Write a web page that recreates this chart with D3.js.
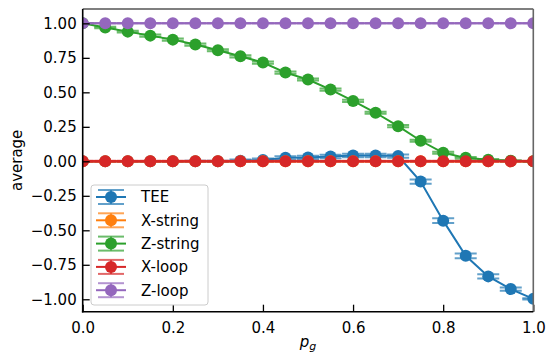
<!DOCTYPE html>
<html>
<head>
<meta charset="utf-8">
<script src="https://cdn.jsdelivr.net/npm/d3@7"></script>
<style>
  body { margin: 0; background: #fff; }
  svg { display: block; font-family: "DejaVu Sans", sans-serif; }
</style>
</head>
<body>
<svg width="556" height="363"></svg>
<script>
let pg = [0, 0.05, 0.1, 0.15, 0.2, 0.25, 0.3, 0.35, 0.4, 0.45, 0.5,
          0.55, 0.6, 0.65, 0.7, 0.75, 0.8, 0.85, 0.9, 0.95, 1.0];

let tee = [0, 0, 0, 0, 0, 0, 0, 0.005, 0.01, 0.025, 0.028,
           0.035, 0.042, 0.042, 0.038, -0.147, -0.43, -0.685, -0.834, -0.926, -0.997];
let teeErr = [0.003, 0.003, 0.003, 0.003, 0.003, 0.004, 0.005, 0.008, 0.01, 0.012, 0.012,
              0.012, 0.012, 0.012, 0.012, 0.015, 0.017, 0.017, 0.015, 0.012, 0.004];

let xString = [0, 0, 0, 0, 0, 0, 0, 0, 0, 0, 0,
               0, 0, 0, 0, 0, 0, 0, 0, 0, 0];
let xStringErr = [0.003, 0.003, 0.003, 0.003, 0.003, 0.003, 0.003, 0.003, 0.003, 0.003, 0.003,
                  0.003, 0.003, 0.003, 0.003, 0.003, 0.003, 0.003, 0.003, 0.003, 0.003];

let zString = [1.0, 0.97, 0.94, 0.911, 0.882, 0.846, 0.805, 0.761, 0.716, 0.643, 0.593,
               0.52, 0.438, 0.352, 0.255, 0.149, 0.062, 0.025, 0.012, 0.004, 0.0];
let zStringErr = [0.002, 0.006, 0.007, 0.008, 0.008, 0.008, 0.008, 0.008, 0.008, 0.008, 0.008,
                  0.008, 0.008, 0.008, 0.008, 0.008, 0.008, 0.006, 0.005, 0.004, 0.003];

let xLoop = [0, 0, 0, 0, 0, 0, 0, 0, 0, 0, 0,
             0, 0, 0, 0, 0, 0, 0, 0, 0, 0];
let xLoopErr = [0.004, 0.004, 0.004, 0.004, 0.004, 0.004, 0.004, 0.004, 0.004, 0.004, 0.004,
                0.004, 0.004, 0.004, 0.004, 0.004, 0.004, 0.004, 0.004, 0.004, 0.004];

let zLoop = [1, 1, 1, 1, 1, 1, 1, 1, 1, 1, 1,
             1, 1, 1, 1, 1, 1, 1, 1, 1, 1];
let zLoopErr = [0, 0, 0, 0, 0, 0, 0, 0, 0, 0, 0,
                0, 0, 0, 0, 0, 0, 0, 0, 0, 0];

let seriesNames = ["TEE", "X-string", "Z-string", "X-loop", "Z-loop"];
let seriesColors = ["#1f77b4", "#ff7f0e", "#2ca02c", "#d62728", "#9467bd"];
let xTicks = [0, 0.2, 0.4, 0.6, 0.8, 1.0];
let yTicks = [-1, -0.75, -0.5, -0.25, 0, 0.25, 0.5, 0.75, 1];

let series = [
  {values: tee, err: teeErr},
  {values: xString, err: xStringErr},
  {values: zString, err: zStringErr},
  {values: xLoop, err: xLoopErr},
  {values: zLoop, err: zLoopErr}
].map(function(s, i) {
  return {
    name: seriesNames[i],
    color: seriesColors[i],
    points: pg.map(function(p, j) { return {x: p, y: s.values[j], e: s.err[j]}; })
  };
});

let svg = d3.select("svg");
let pLeft = 82.7, pRight = 533.3, pTop = 9, pBottom = 311.7;

let x = d3.scaleLinear().domain([0, 1]).range([pLeft, pRight]);
let y = d3.scaleLinear().domain([-1.09, 1.104]).range([pBottom, pTop]);

let capHalf = 11, markerR = 6;

svg.append("clipPath").attr("id", "plotclip")
  .append("rect")
    .attr("x", pLeft).attr("y", pTop)
    .attr("width", pRight - pLeft).attr("height", pBottom - pTop);

let plot = svg.append("g").attr("clip-path", "url(#plotclip)");

let line = d3.line()
    .x(function(d) { return x(d.x); })
    .y(function(d) { return y(d.y); });

series.forEach(function(s) {
  let g = plot.append("g");

  let eb = g.append("g")
      .attr("stroke", s.color)
      .attr("stroke-width", 2)
      .attr("stroke-opacity", 0.7)
    .selectAll("g")
    .data(s.points)
    .enter().append("g");

  eb.append("line")
      .attr("x1", function(d) { return x(d.x); })
      .attr("x2", function(d) { return x(d.x); })
      .attr("y1", function(d) { return y(d.y - d.e); })
      .attr("y2", function(d) { return y(d.y + d.e); });
  eb.append("line")
      .attr("x1", function(d) { return x(d.x) - capHalf; })
      .attr("x2", function(d) { return x(d.x) + capHalf; })
      .attr("y1", function(d) { return y(d.y + d.e); })
      .attr("y2", function(d) { return y(d.y + d.e); });
  eb.append("line")
      .attr("x1", function(d) { return x(d.x) - capHalf; })
      .attr("x2", function(d) { return x(d.x) + capHalf; })
      .attr("y1", function(d) { return y(d.y - d.e); })
      .attr("y2", function(d) { return y(d.y - d.e); });

  g.append("path")
      .datum(s.points)
      .attr("fill", "none")
      .attr("stroke", s.color)
      .attr("stroke-width", 2)
      .attr("d", line);

  g.selectAll("circle")
    .data(s.points)
    .enter().append("circle")
      .attr("cx", function(d) { return x(d.x); })
      .attr("cy", function(d) { return y(d.y); })
      .attr("r", markerR)
      .attr("fill", s.color);
});

// axes with inward ticks
let xAxis = svg.append("g")
    .attr("transform", "translate(0," + pBottom + ")")
    .call(d3.axisBottom(x).tickValues(xTicks).tickFormat(d3.format(".1f"))
      .tickSizeInner(-7).tickSizeOuter(0).tickPadding(11));
let yAxis = svg.append("g")
    .attr("transform", "translate(" + pLeft + ",0)")
    .call(d3.axisLeft(y).tickValues(yTicks).tickFormat(d3.format(".2f"))
      .tickSizeInner(-7).tickSizeOuter(0).tickPadding(6));

[xAxis, yAxis].forEach(function(a) {
  a.select(".domain").remove();
  a.selectAll(".tick line").attr("stroke", "#000").attr("stroke-width", 1.3);
  a.selectAll(".tick text").attr("fill", "#000").style("font-size", "15px")
    .style("font-family", "'DejaVu Sans', sans-serif");
});

svg.append("line").attr("x1", pLeft).attr("x2", pRight).attr("y1", pTop).attr("y2", pTop)
    .attr("stroke", "#555").attr("stroke-width", 1.3);
svg.append("line").attr("x1", pRight).attr("x2", pRight).attr("y1", pTop).attr("y2", pBottom)
    .attr("stroke", "#666").attr("stroke-width", 1.6);
svg.append("line").attr("x1", pLeft).attr("x2", pLeft).attr("y1", pTop).attr("y2", pBottom + 0.8)
    .attr("stroke", "#000").attr("stroke-width", 1.6);
svg.append("line").attr("x1", pLeft - 0.8).attr("x2", pRight).attr("y1", pBottom).attr("y2", pBottom)
    .attr("stroke", "#000").attr("stroke-width", 1.6);

// axis labels
let xl = svg.append("text")
    .attr("x", (pLeft + pRight) / 2)
    .attr("y", 347)
    .attr("text-anchor", "middle")
    .style("font-size", "15px");
xl.append("tspan").style("font-style", "italic").text("p");
xl.append("tspan").attr("dy", 3).style("font-size", "11px").style("font-style", "italic").text("g");

svg.append("text")
    .attr("transform", "translate(22," + ((pTop + pBottom) / 2) + ") rotate(-90)")
    .attr("text-anchor", "middle")
    .style("font-size", "15px")
    .text("average");

// legend
let legend = svg.append("g");
legend.append("rect")
    .attr("x", 91).attr("y", 185)
    .attr("width", 117).attr("height", 120)
    .attr("rx", 3)
    .attr("fill", "#fff").attr("fill-opacity", 0.8)
    .attr("stroke", "#ccc").attr("stroke-width", 1);

let item = legend.selectAll(".item")
  .data(series)
  .enter().append("g")
    .attr("class", "item")
    .attr("transform", function(d, i) { return "translate(0," + (197 + i * 23.3) + ")"; });

item.append("line")
    .attr("x1", 96).attr("x2", 126).attr("y1", 0).attr("y2", 0)
    .attr("stroke", function(d) { return d.color; }).attr("stroke-width", 2);
item.append("line")
    .attr("x1", 111).attr("x2", 111).attr("y1", -7).attr("y2", 7)
    .attr("stroke", function(d) { return d.color; }).attr("stroke-width", 2).attr("stroke-opacity", 0.7);
[-7, 7].forEach(function(off) {
  item.append("line")
      .attr("x1", 98).attr("x2", 124).attr("y1", off).attr("y2", off)
      .attr("stroke", function(d) { return d.color; }).attr("stroke-width", 2).attr("stroke-opacity", 0.7);
});
item.append("circle")
    .attr("cx", 111).attr("cy", 0).attr("r", markerR)
    .attr("fill", function(d) { return d.color; });
item.append("text")
    .attr("x", 141).attr("y", 0).attr("dy", "0.36em")
    .style("font-size", "15px")
    .text(function(d) { return d.name; });
</script>
</body>
</html>
